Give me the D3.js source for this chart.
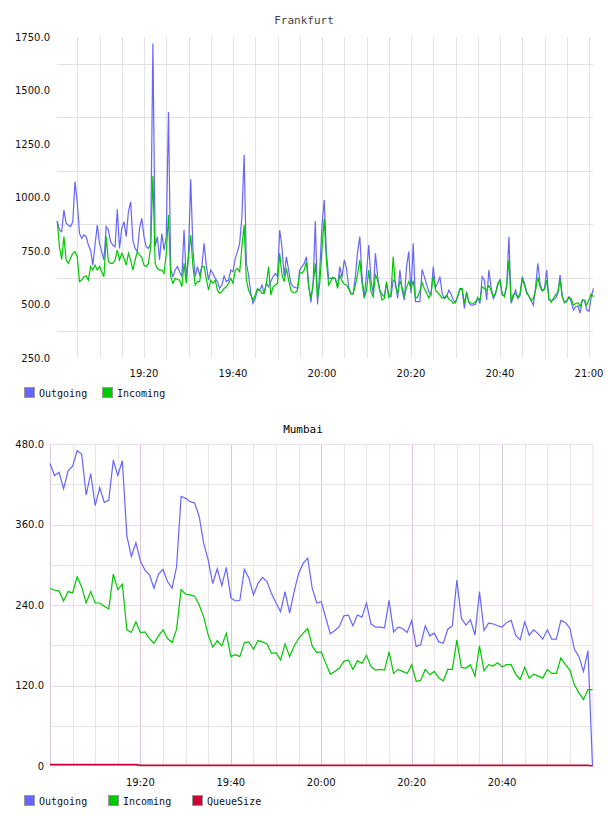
<!DOCTYPE html>
<html>
<head>
<meta charset="utf-8">
<script src="https://cdn.jsdelivr.net/npm/d3@7"></script>
<style>
  body { margin: 0; background: #fff; }
  svg text { font-family: "DejaVu Sans", sans-serif; }
  svg text.mono { font-family: "DejaVu Sans Mono", monospace; }
</style>
</head>
<body>
<svg id="chart" width="608" height="816"></svg>
<script>
// Frankfurt, one sample every 30 s starting 19:00:30
const frankfurtOut = [
  890, 848, 840, 941, 880, 870, 864, 887, 1075, 980,
  832, 809, 825, 817, 778, 754, 684, 778, 871, 786,
  747, 708, 864, 848, 793, 778, 770, 945, 762, 856,
  887, 817, 934, 980, 801, 762, 747, 856, 903, 817,
  770, 762, 786, 1720, 770, 817, 708, 832, 754, 817,
  1400, 661, 630, 661, 677, 653, 630, 848, 614, 739,
  1085, 755, 630, 677, 638, 677, 786, 684, 614, 661,
  645, 622, 607, 575, 591, 633, 607, 614, 661, 653,
  716, 747, 786, 910, 1200, 692, 638, 552, 505, 528,
  567, 567, 591, 552, 599, 583, 607, 630, 645, 630,
  848, 770, 630, 723, 661, 599, 583, 580, 575, 661,
  677, 692, 723, 591, 510, 599, 890, 500, 661, 870,
  988, 740, 622, 622, 627, 621, 583, 677, 627, 708,
  669, 583, 552, 549, 630, 747, 817, 630, 530, 645,
  778, 614, 552, 739, 630, 560, 549, 536, 599, 544,
  536, 614, 607, 528, 661, 567, 521, 677, 747, 552,
  786, 513, 513, 513, 664, 630, 594, 560, 544, 677,
  580, 599, 630, 552, 528, 536, 567, 549, 521, 508,
  536, 574, 567, 482, 560, 508, 497, 497, 502, 533,
  505, 630, 614, 521, 661, 583, 528, 549, 599, 614,
  544, 544, 583, 817, 505, 536, 567, 528, 540, 630,
  599, 560, 540, 518, 497, 583, 692, 599, 564, 575,
  661, 521, 521, 521, 530, 552, 638, 540, 508, 521,
  536, 513, 474, 490, 493, 459, 521, 518, 474, 468,
  536, 575
];
const frankfurtIn = [
  890, 770, 711, 817, 708, 692, 716, 739, 747, 723,
  607, 614, 630, 633, 614, 677, 661, 684, 661, 677,
  653, 630, 817, 700, 692, 692, 708, 754, 708, 739,
  716, 684, 739, 708, 661, 708, 747, 731, 720, 684,
  677, 692, 770, 1100, 692, 669, 661, 661, 645, 739,
  918, 630, 599, 622, 617, 614, 583, 692, 599, 723,
  825, 677, 591, 607, 607, 677, 677, 622, 567, 614,
  599, 614, 567, 552, 560, 575, 583, 599, 622, 599,
  661, 669, 653, 770, 871, 614, 567, 544, 521, 544,
  575, 567, 552, 552, 599, 677, 544, 583, 591, 599,
  739, 638, 607, 669, 614, 567, 555, 555, 567, 653,
  645, 661, 700, 583, 530, 591, 692, 530, 599, 760,
  900, 700, 591, 610, 627, 622, 575, 638, 610, 596,
  591, 572, 549, 549, 591, 642, 708, 599, 532, 564,
  661, 560, 536, 638, 614, 567, 521, 528, 607, 532,
  552, 723, 583, 552, 611, 580, 540, 580, 607, 575,
  611, 528, 536, 564, 602, 575, 555, 530, 552, 633,
  567, 555, 544, 530, 532, 543, 525, 518, 505, 513,
  540, 574, 575, 505, 555, 511, 507, 505, 513, 530,
  521, 583, 575, 567, 589, 564, 536, 555, 591, 614,
  549, 536, 591, 708, 513, 549, 549, 533, 552, 617,
  591, 552, 540, 518, 528, 567, 627, 583, 564, 571,
  614, 525, 510, 528, 546, 558, 614, 533, 510, 513,
  533, 528, 497, 505, 508, 490, 521, 521, 497, 524,
  549, 536
];

// Mumbai, one sample per minute starting 19:00
const mumbaiOut = [
  451, 433, 438, 413, 440, 447, 470, 465, 404, 436,
  388, 415, 393, 396, 456, 433, 455, 343, 312, 333,
  305, 292, 285, 265, 286, 293, 275, 265, 297, 402,
  399, 394, 392, 372, 332, 307, 272, 294, 269, 296,
  251, 246, 247, 293, 280, 255, 272, 281, 275, 257,
  243, 230, 260, 228, 260, 287, 302, 310, 265, 243,
  245, 221, 197, 202, 208, 224, 225, 209, 225, 222,
  243, 212, 207, 207, 206, 247, 200, 207, 205, 199,
  217, 178, 181, 209, 194, 198, 185, 183, 204, 209,
  277, 220, 210, 218, 195, 260, 202, 213, 212, 209,
  207, 214, 217, 195, 188, 215, 195, 203, 197, 189,
  203, 189, 189, 217, 214, 205, 174, 163, 141, 172,
  0
];
const mumbaiIn = [
  265, 262, 261, 246, 260, 258, 282, 267, 243, 260,
  243, 243, 238, 234, 286, 263, 271, 203, 199, 215,
  199, 200, 190, 183, 194, 203, 190, 184, 204, 263,
  256, 255, 253, 240, 222, 195, 177, 187, 179, 198,
  163, 166, 163, 184, 185, 174, 187, 185, 182, 168,
  169, 158, 182, 163, 179, 190, 198, 205, 179, 169,
  170, 153, 137, 141, 146, 156, 158, 144, 157, 153,
  165, 148, 143, 144, 143, 170, 138, 144, 141, 138,
  151, 126, 128, 144, 136, 141, 131, 127, 144, 144,
  188, 147, 146, 151, 134, 179, 142, 151, 149, 154,
  148, 151, 151, 137, 129, 147, 131, 137, 134, 131,
  144, 138, 138, 161, 151, 143, 121, 109, 99, 114,
  114
];
const mumbaiQueue = [
  2, 2, 2, 2, 2, 2, 2, 2, 2, 2,
  2, 2, 2, 2, 2, 2, 2, 2, 2, 2,
  1, 1, 1, 1, 1, 1, 1, 1, 1, 1,
  1, 1, 1, 1, 1, 1, 1, 1, 1, 1,
  1, 1, 1, 1, 1, 1, 1, 1, 1, 1,
  1, 1, 1, 1, 1, 1, 1, 1, 1, 1,
  1, 1, 1, 1, 1, 1, 1, 1, 1, 1,
  1, 1, 1, 1, 1, 1, 1, 1, 1, 1,
  1, 1, 1, 1, 1, 1, 1, 1, 1, 1,
  1, 1, 1, 1, 1, 1, 1, 1, 1, 1,
  1, 1, 1, 1, 1, 1, 1, 1, 1, 1,
  1, 1, 1, 1, 1, 1, 1, 1, 1, 1,
  0
];

const frankfurtYTicks = [250, 500, 750, 1000, 1250, 1500, 1750];
const frankfurtYGrid = [375, 625, 875, 1125, 1375, 1625];
const mumbaiYTicks = [0, 120, 240, 360, 480];
const mumbaiYMinor = [60, 180, 300, 420];
const timeLabels = ["19:20", "19:40", "20:00", "20:20", "20:40", "21:00"];

const colOut = "#6666ff", colIn = "#00c800", colQueue = "#cc0033";

const svg = d3.select("#chart");
const start = new Date(2020, 0, 1, 19, 0, 0);
const end = new Date(2020, 0, 1, 21, 0, 0);
const parseHM = s => { const [h, m] = s.split(":").map(Number); return new Date(2020, 0, 1, h, m, 0); };
const fiveMin = d3.timeMinute.every(5).range(d3.timeMinute.offset(start, 1), d3.timeMinute.offset(end, 1));

// ---------- Frankfurt ----------
{
  const x = d3.scaleTime().domain([start, end]).range([55, 589]);
  const y = d3.scaleLinear().domain([250, 1750]).range([358, 37]);
  const times = frankfurtOut.map((d, i) => d3.timeSecond.offset(start, 30 * (i + 1)));
  const g = svg.append("g");

  g.append("text").attr("class", "mono").attr("x", 304).attr("y", 24)
    .attr("text-anchor", "middle").attr("font-size", 11).attr("fill", "#444").text("Frankfurt");

  g.selectAll(".vg").data(fiveMin).enter().append("line")
    .attr("x1", d => Math.round(x(d)) + 0.5).attr("x2", d => Math.round(x(d)) + 0.5)
    .attr("y1", 37).attr("y2", 358).attr("stroke", "#e4e4e4");
  g.selectAll(".hg").data(frankfurtYGrid).enter().append("line")
    .attr("x1", 57).attr("x2", 593)
    .attr("y1", d => Math.round(y(d)) + 0.5).attr("y2", d => Math.round(y(d)) + 0.5)
    .attr("stroke", "#e0e0e0");

  g.selectAll(".yl").data(frankfurtYTicks).enter().append("text")
    .attr("x", 50).attr("y", d => y(d)).attr("dy", "0.35em").attr("text-anchor", "end")
    .attr("font-size", 10).attr("fill", "#111").text(d => d3.format(".1f")(d));
  g.selectAll(".xl").data(timeLabels).enter().append("text")
    .attr("x", d => x(parseHM(d))).attr("y", 373).attr("dy", "0.35em").attr("text-anchor", "middle")
    .attr("font-size", 10).attr("fill", "#111").text(d => d);

  const line = vals => d3.line().x((d, i) => x(times[i])).y(d => y(d))(vals);
  g.append("path").attr("d", line(frankfurtOut)).attr("fill", "none").attr("stroke", colOut).attr("stroke-width", 1.2);
  g.append("path").attr("d", line(frankfurtIn)).attr("fill", "none").attr("stroke", colIn).attr("stroke-width", 1.2);

  const legend = [["Outgoing", colOut, 24], ["Incoming", colIn, 102]];
  legend.forEach(([name, c, lx]) => {
    g.append("rect").attr("x", lx + 0.5).attr("y", 387.5).attr("width", 10).attr("height", 10)
      .attr("fill", c).attr("stroke", "#999");
    g.append("text").attr("class", "mono").attr("x", lx + 15).attr("y", 393).attr("dy", "0.35em")
      .attr("font-size", 10).attr("fill", "#111").text(name);
  });
}

// ---------- Mumbai ----------
{
  const x = d3.scaleTime().domain([start, end]).range([50, 592.5]);
  const y = d3.scaleLinear().domain([0, 480]).range([766, 444]);
  const times = mumbaiOut.map((d, i) => d3.timeMinute.offset(start, i));
  const g = svg.append("g");

  g.append("text").attr("class", "mono").attr("x", 303).attr("y", 433)
    .attr("text-anchor", "middle").attr("font-size", 11).attr("fill", "#000").text("Mumbai");

  const isMajor = d => d.getMinutes() % 20 === 0;
  g.selectAll(".vg").data(fiveMin.filter(d => d < end)).enter().append("line")
    .attr("x1", d => Math.round(x(d)) + 0.5).attr("x2", d => Math.round(x(d)) + 0.5)
    .attr("y1", 444).attr("y2", 766).attr("stroke", d => isMajor(d) ? "#dcc4dc" : "#e8e4e8");
  g.selectAll(".hm").data(mumbaiYMinor).enter().append("line")
    .attr("x1", 50).attr("x2", 593)
    .attr("y1", d => Math.round(y(d)) + 0.5).attr("y2", d => Math.round(y(d)) + 0.5)
    .attr("stroke", "#e6e4e6");
  g.selectAll(".hM").data(mumbaiYTicks.slice(1, -1)).enter().append("line")
    .attr("x1", 50).attr("x2", 593)
    .attr("y1", d => Math.round(y(d)) + 0.5).attr("y2", d => Math.round(y(d)) + 0.5)
    .attr("stroke", "#efd8ef");
  g.append("rect").attr("x", 50.5).attr("y", 444.5).attr("width", 542.5).attr("height", 321)
    .attr("fill", "none").attr("stroke", "#eedcee");
  g.append("line").attr("x1", 50.5).attr("x2", 50.5).attr("y1", 444).attr("y2", 766).attr("stroke", "#e0c8e0");

  g.selectAll(".yl").data(mumbaiYTicks).enter().append("text")
    .attr("x", 44).attr("y", d => y(d)).attr("dy", "0.35em").attr("text-anchor", "end")
    .attr("font-size", 10).attr("fill", "#111").text(d => d === 0 ? "0" : d3.format(".1f")(d));
  g.selectAll(".xl").data(timeLabels.slice(0, 5)).enter().append("text")
    .attr("x", d => x(parseHM(d))).attr("y", 782).attr("dy", "0.35em").attr("text-anchor", "middle")
    .attr("font-size", 10).attr("fill", "#111").text(d => d);

  const line = vals => d3.line().x((d, i) => x(times[i])).y(d => y(d))(vals);
  g.append("path").attr("d", line(mumbaiOut)).attr("fill", "none").attr("stroke", colOut).attr("stroke-width", 1.2);
  g.append("path").attr("d", line(mumbaiIn)).attr("fill", "none").attr("stroke", colIn).attr("stroke-width", 1.2);
  g.append("path").attr("d", line(mumbaiQueue)).attr("fill", "none").attr("stroke", colQueue).attr("stroke-width", 1.6);

  const legend = [["Outgoing", colOut, 24], ["Incoming", colIn, 108], ["QueueSize", colQueue, 192]];
  legend.forEach(([name, c, lx]) => {
    g.append("rect").attr("x", lx + 0.5).attr("y", 795.5).attr("width", 10).attr("height", 10)
      .attr("fill", c).attr("stroke", "#999");
    g.append("text").attr("class", "mono").attr("x", lx + 15).attr("y", 801).attr("dy", "0.35em")
      .attr("font-size", 10).attr("fill", "#111").text(name);
  });
}
</script>
</body>
</html>
